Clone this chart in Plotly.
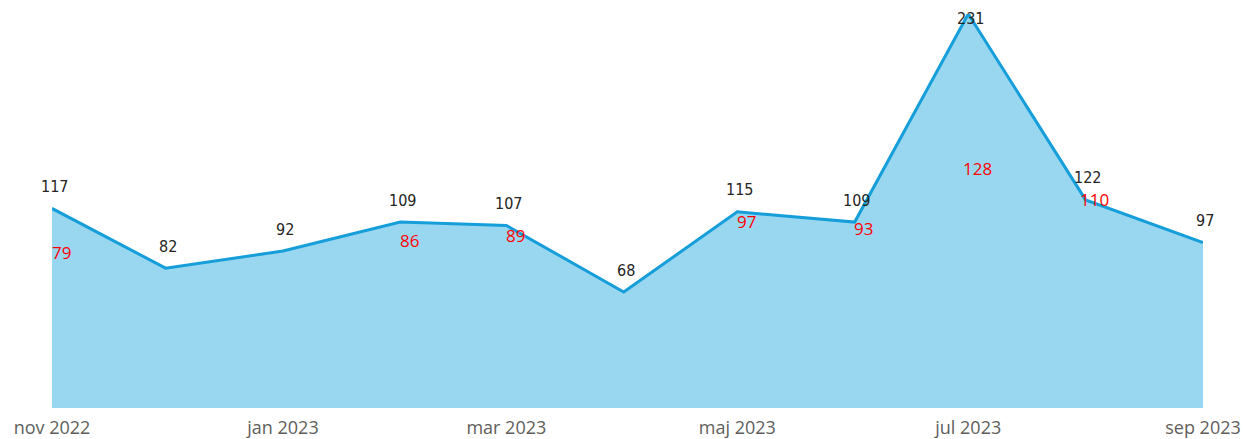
import plotly.graph_objects as go

dates = ["2022-11-01", "2022-12-01", "2023-01-01", "2023-02-01", "2023-03-01", "2023-04-01",
         "2023-05-01", "2023-06-01", "2023-07-01", "2023-08-01", "2023-09-01"]
values = [117, 82, 92, 109, 107, 68, 115, 109, 231, 122, 97]
red_dates = ["2022-11-01", "2023-02-01", "2023-03-01", "2023-05-01", "2023-06-01", "2023-07-01", "2023-08-01"]
red_values = [79, 86, 89, 97, 93, 128, 110]
tick_dates = ["2022-11-01", "2023-01-01", "2023-03-01", "2023-05-01", "2023-07-01", "2023-09-01"]
tick_labels = ["nov 2022", "jan 2023", "mar 2023", "maj 2023", "jul 2023", "sep 2023"]

fig = go.Figure()
fig.add_trace(go.Scatter(
    x=dates, y=values, mode="lines", fill="tozeroy",
    fillcolor="#99D7F0", line=dict(color="#159ED9", width=3),
    hoverinfo="skip", showlegend=False,
))

annotations = []
for d, v in zip(dates, values):
    shift = -4 if v == max(values) else 22
    annotations.append(dict(x=d, y=v, xref="x", yref="y", text=str(v), showarrow=False,
                            yshift=shift, xshift=2,
                            font=dict(family="DejaVu Sans Condensed", size=16, color="#252423")))
for d, v in zip(red_dates, red_values):
    annotations.append(dict(x=d, y=v, xref="x", yref="y", text=str(v), showarrow=False,
                            yshift=21, xshift=9,
                            font=dict(family="Open Sans", size=17, color="#FF0000")))

fig.update_layout(
    width=1243, height=439,
    margin=dict(l=52, r=40, t=14, b=31, autoexpand=False),
    paper_bgcolor="white", plot_bgcolor="white",
    annotations=annotations,
    xaxis=dict(type="date", range=[dates[0], dates[-1]],
               tickmode="array", tickvals=tick_dates, ticktext=tick_labels,
               showgrid=False, zeroline=False, showline=False, ticks="", automargin=False,
               ticklabelstandoff=7,
               tickfont=dict(family="Open Sans", size=18, color="#605E5C")),
    yaxis=dict(range=[0, 231], visible=False, showgrid=False, zeroline=False, automargin=False),
)
fig.write_html("out.html", config={"displayModeBar": False},
               post_script="document.body.style.margin='0';document.body.style.overflow='hidden';")
